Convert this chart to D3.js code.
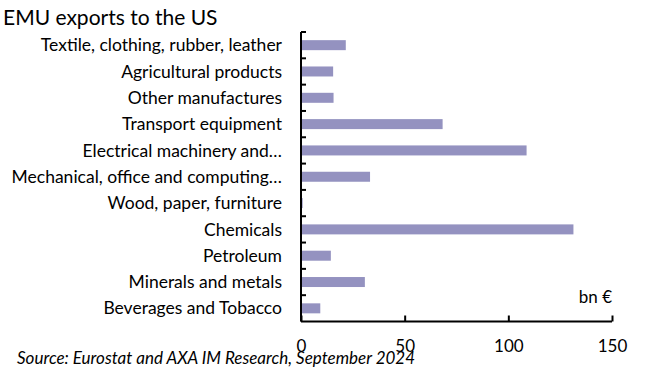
<!DOCTYPE html>
<html>
<head>
<meta charset="utf-8">
<script src="https://cdn.jsdelivr.net/npm/d3@7"></script>
<style>
    body { margin: 0; background: #fff; }
    text { font-family: Lato, "Open Sans", sans-serif; fill: #000; }
</style>
</head>
<body>
<div id="chart_parent"></div>
<script>
const categories = [
    'Textile, clothing, rubber, leather',
    'Agricultural products',
    'Other manufactures',
    'Transport equipment',
    'Electrical machinery and…',
    'Mechanical, office and computing…',
    'Wood, paper, furniture',
    'Chemicals',
    'Petroleum',
    'Minerals and metals',
    'Beverages and Tobacco',
];
const exportsBn = [21.6, 15.5, 15.7, 68.3, 108.8, 33.3, 0.8, 131.4, 14.4, 30.8, 9.3];
const xTicks = [0, 50, 100, 150];

const chartConfig = {
    outerWidth: 655,
    outerHeight: 371,
    plot: { left: 301, right: 612, top: 32, bottom: 321.5 },
};

const svg = d3.select('#chart_parent').append('svg')
    .attr('width', chartConfig.outerWidth)
    .attr('height', chartConfig.outerHeight);

const { plot } = chartConfig;

const xScale = d3.scaleLinear()
    .domain([0, 150])
    .range([plot.left, plot.right]);

const yScale = d3.scaleBand()
    .domain(categories)
    .range([plot.top, plot.bottom])
    .paddingInner(0.62)
    .paddingOuter(0.31);

// bars
svg.append('g').selectAll('rect')
    .data(categories)
    .enter()
    .append('rect')
    .attr('x', xScale(0))
    .attr('y', d => yScale(d))
    .attr('width', (d, i) => xScale(exportsBn[i]) - xScale(0))
    .attr('height', yScale.bandwidth())
    .attr('fill', '#9492c0');

// y axis, ticks sit between the categories and point inward
const yAxisGroup = svg.append('g');
yAxisGroup.append('line')
    .attr('x1', plot.left).attr('x2', plot.left)
    .attr('y1', plot.top).attr('y2', plot.bottom)
    .attr('stroke', '#000').attr('stroke-width', 2);
const boundaries = d3.range(categories.length).map(i => plot.top + i * (plot.bottom - plot.top) / categories.length);
yAxisGroup.selectAll('.ytick')
    .data(boundaries)
    .enter()
    .append('line')
    .attr('class', 'ytick')
    .attr('x1', plot.left).attr('x2', plot.left + 5)
    .attr('y1', d => d).attr('y2', d => d)
    .attr('stroke', '#000').attr('stroke-width', 2);

yAxisGroup.selectAll('.ylabel')
    .data(categories)
    .enter()
    .append('text')
    .attr('class', 'ylabel')
    .attr('x', 282)
    .attr('y', d => yScale(d) + yScale.bandwidth() / 2)
    .attr('dy', '0.35em')
    .attr('text-anchor', 'end')
    .style('font-size', '17.5px')
    .text(d => d);

// x axis
const xAxis = d3.axisBottom(xScale)
    .tickValues(xTicks)
    .tickSize(-6)
    .tickPadding(18)
    .tickFormat(d3.format('d'));

const xAxisGroup = svg.append('g')
    .attr('transform', `translate(0,${plot.bottom})`)
    .call(xAxis);
xAxisGroup.select('.domain')
    .attr('d', `M${plot.left},0H${plot.right}`)
    .attr('stroke-width', 2);
xAxisGroup.selectAll('.tick line').attr('stroke-width', 2);
xAxisGroup.selectAll('.tick text')
    .style('font-family', 'Lato, "Open Sans", sans-serif')
    .style('font-size', '17px');

// texts
svg.append('text')
    .attr('x', 3).attr('y', 25)
    .style('font-size', '21px')
    .text('EMU exports to the US');

svg.append('text')
    .attr('x', 612).attr('y', 303)
    .attr('text-anchor', 'end')
    .style('font-size', '17px')
    .text('bn €');

svg.append('text')
    .attr('x', 17).attr('y', 364)
    .style('font-size', '17px')
    .style('font-style', 'italic')
    .text('Source: Eurostat and AXA IM Research, September 2024');
</script>
</body>
</html>
